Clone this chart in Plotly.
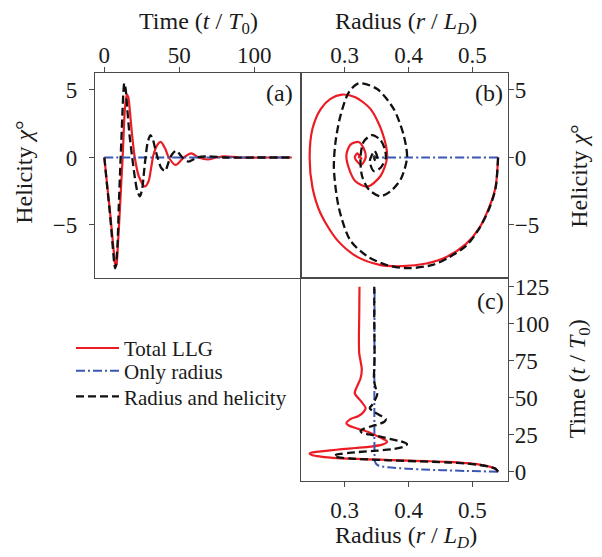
import plotly.graph_objects as go

# ---- data ----
# Total LLG
t_red = [0, 2.0, 3.5, 4.8, 5.8, 6.6, 7.1, 7.6, 8.1, 8.6, 9.2, 10.2, 11.1, 12.2, 13.0, 13.7,
         14.4, 15.2, 16.0, 16.9, 18.3, 20.3, 23.0, 27.0, 29.5, 31.2, 32.8, 35.5, 37.6, 40.5,
         43.0, 47.5, 53.0, 58.0, 63.0, 69.0, 75.0, 80.0, 90.0, 105.0, 125.0]
chi_red = [0, -2.2, -3.7, -5.2, -6.4, -7.35, -7.85, -8.05, -7.95, -7.36, -6.14, -4.19, -2.24,
           0.0, 2.14, 3.6, 4.34, 4.66, 4.46, 3.6, 1.9, 0.0, -1.39, -2.15, -1.76, -0.78, 0.2,
           0.95, 1.15, 0.68, 0.0, -0.55, 0.0, 0.3, 0.0, -0.15, 0.0, 0.08, 0.0, 0.0, 0.0]
r_red = [0.540, 0.536, 0.526, 0.511, 0.490, 0.460, 0.428, 0.39, 0.355, 0.320, 0.289, 0.263,
         0.250, 0.2455, 0.250, 0.263, 0.278, 0.296, 0.317, 0.3405, 0.3587, 0.3665, 0.356,
         0.336, 0.317, 0.3067, 0.303, 0.3093, 0.322, 0.330, 0.333, 0.326, 0.316, 0.320,
         0.325, 0.327, 0.325, 0.323, 0.3225, 0.323, 0.3234]

# Only radius
t_blue = [0, 0.5, 1.0, 1.5, 2.0, 3.0, 4.0, 5.0, 7.0, 10.0, 125.0]
chi_blue = [0, 0, 0, 0, 0, 0, 0, 0, 0, 0, 0]
r_blue = [0.540, 0.49, 0.452, 0.422, 0.398, 0.368, 0.354, 0.350, 0.3475, 0.347, 0.347]

# Radius and helicity
t_blk = [0, 2.0, 3.4, 4.6, 5.5, 6.2, 6.7, 7.2, 7.7, 8.3, 8.9, 9.6, 10.6, 11.3, 12.0, 12.7,
         13.3, 14.2, 15.3, 16.8, 18.6, 20.5, 22.0, 23.7, 25.2, 26.2, 27.5, 29.0, 30.8, 32.5,
         33.8, 35.5, 38.0, 40.5, 43.0, 45.0, 48.0, 52.0, 56.0, 62.0, 70.0, 80.0, 100.0, 125.0]
chi_blk = [0, -2.3, -3.8, -5.3, -6.5, -7.4, -7.95, -8.2, -8.0, -7.3, -6.14, -3.7, -0.78, 1.17,
           3.12, 4.83, 5.5, 5.07, 3.6, 1.66, 0.0, -1.6, -2.5, -2.87, -2.37, -1.39, 0.0, 1.17,
           1.66, 1.3, 0.7, 0.0, -0.78, -1.0, -0.3, 0.2, 0.5, 0.0, -0.3, 0.0, 0.08, 0.0, 0.0, 0.0]
r_blk = [0.540, 0.536, 0.526, 0.510, 0.491, 0.463, 0.438, 0.40, 0.368, 0.335, 0.309, 0.291,
         0.2834, 0.286, 0.2938, 0.3067, 0.3223, 0.351, 0.3768, 0.3924, 0.3977, 0.388, 0.372,
         0.356, 0.338, 0.3275, 0.325, 0.330, 0.343, 0.356, 0.3625, 0.3645, 0.356, 0.3457,
         0.3395, 0.343, 0.347, 0.351, 0.349, 0.346, 0.3465, 0.347, 0.3465, 0.3465]

series_names = ["Total LLG", "Only radius", "Radius and helicity"]
time_ticks = [0, 50, 100]
time_ticks_c = [0, 25, 50, 75, 100, 125]
chi_ticks = [-5, 0, 5]
radius_ticks = [0.3, 0.4, 0.5]

# ---- styles ----
W, H = 602, 557
FONT = "Liberation Serif"
RED = "#ec1c24"
BLUE = "#3a57b3"
BLACK = "#111111"
styles = [
    dict(color=RED, width=2.2, dash="solid"),
    dict(color=BLUE, width=2.0, dash="9px,3px,2px,3px"),
    dict(color=BLACK, width=2.3, dash="8px,4px"),
]
legend_ids = ["legend", "legend2", "legend3"]
legend_rows = [329, 352, 378]  # top pixel of each legend box
series = [(t_red, chi_red, r_red), (t_blue, chi_blue, r_blue), (t_blk, chi_blk, r_blk)]

fig = go.Figure()
for i, ((t, c, r), name, st) in enumerate(zip(series, series_names, styles)):
    line = dict(color=st["color"], width=st["width"], dash=st["dash"], shape="spline", smoothing=0.8)
    # (a) helicity vs time
    fig.add_trace(go.Scatter(x=t, y=c, mode="lines", line=line, name=name,
                             showlegend=True, legend=legend_ids[i], xaxis="x", yaxis="y"))
    # (b) helicity vs radius
    fig.add_trace(go.Scatter(x=r, y=c, mode="lines", line=line, name=name,
                             showlegend=False, xaxis="x2", yaxis="y2"))
    # (c) time vs radius
    fig.add_trace(go.Scatter(x=r, y=t, mode="lines", line=line, name=name,
                             showlegend=False, xaxis="x3", yaxis="y3"))

def px_x(p):
    return p / W

def px_y(p):
    return 1 - p / H

LINEC = "#4a4a4a"
TICKFONT = dict(family=FONT, size=23, color="#1a1a1a")

def ax(standoff):
    return dict(showgrid=False, zeroline=False, showline=True, mirror=True, linecolor=LINEC,
                linewidth=1.4, ticks="outside", ticklen=5, tickwidth=1.2, tickcolor=LINEC,
                ticklabelstandoff=standoff, tickfont=TICKFONT)

xa_dom = [px_x(95), px_x(301)]
xb_dom = [px_x(301), px_x(508)]
ytop_dom = [px_y(278), px_y(71)]
ybot_dom = [px_y(484), px_y(278)]

LEGFONT = dict(family=FONT, size=21, color="#1a1a1a")
legends = {}
for lid, top in zip(legend_ids, legend_rows):
    legends[lid] = dict(x=px_x(71), y=px_y(top), xanchor="left", yanchor="top",
                        bgcolor="rgba(0,0,0,0)", borderwidth=0, font=LEGFONT, itemwidth=43)

fig.update_layout(
    width=W, height=H,
    margin=dict(l=0, r=0, t=0, b=0),
    paper_bgcolor="white", plot_bgcolor="white",
    font=dict(family=FONT, color="#1a1a1a"),
    xaxis=dict(domain=xa_dom, range=[-6.25, 131.25], side="top", anchor="y",
               tickvals=time_ticks, **ax(-5)),
    yaxis=dict(domain=ytop_dom, range=[-8.89, 6.25], side="left", anchor="x",
               tickvals=chi_ticks, **ax(7)),
    xaxis2=dict(domain=xb_dom, range=[0.232, 0.5555], side="top", anchor="y2",
                tickvals=radius_ticks, tickformat=".1f", **ax(-5)),
    yaxis2=dict(domain=ytop_dom, range=[-8.89, 6.25], side="right", anchor="x2",
                tickvals=chi_ticks, **ax(-4)),
    xaxis3=dict(domain=xb_dom, range=[0.232, 0.5555], side="bottom", anchor="y3",
                tickvals=radius_ticks, tickformat=".1f", **ax(3)),
    yaxis3=dict(domain=ybot_dom, range=[-6.25, 131.25], side="right", anchor="x3",
                tickvals=time_ticks_c, **ax(-4)),
    showlegend=True,
    **legends,
)

TF = dict(family=FONT, size=24, color="#1a1a1a")
ann = [
    dict(text="Time (<i>t</i> / <i>T</i><sub>0</sub>)", x=px_x(198), y=px_y(20)),
    dict(text="Radius (<i>r</i> / <i>L<sub>D</sub></i>)", x=px_x(406), y=px_y(20)),
    dict(text="Radius (<i>r</i> / <i>L<sub>D</sub></i>)", x=px_x(406), y=px_y(541)),
    dict(text="Helicity <i>χ</i>°", x=px_x(24), y=px_y(172), textangle=-90),
    dict(text="Helicity <i>χ</i>°", x=px_x(579), y=px_y(176), textangle=-90),
    dict(text="Time (<i>t</i> / <i>T</i><sub>0</sub>)", x=px_x(579), y=px_y(381), textangle=-90),
    dict(text="(a)", x=px_x(279), y=px_y(91)),
    dict(text="(b)", x=px_x(489), y=px_y(91)),
    dict(text="(c)", x=px_x(490), y=px_y(302)),
]
fig.update_layout(annotations=[dict(xref="paper", yref="paper", showarrow=False,
                                    xanchor="center", yanchor="middle", font=TF, **a)
                               for a in ann])

fig.write_html("out.html", config={"displayModeBar": False},
               post_script="document.body.style.margin='0px';")
